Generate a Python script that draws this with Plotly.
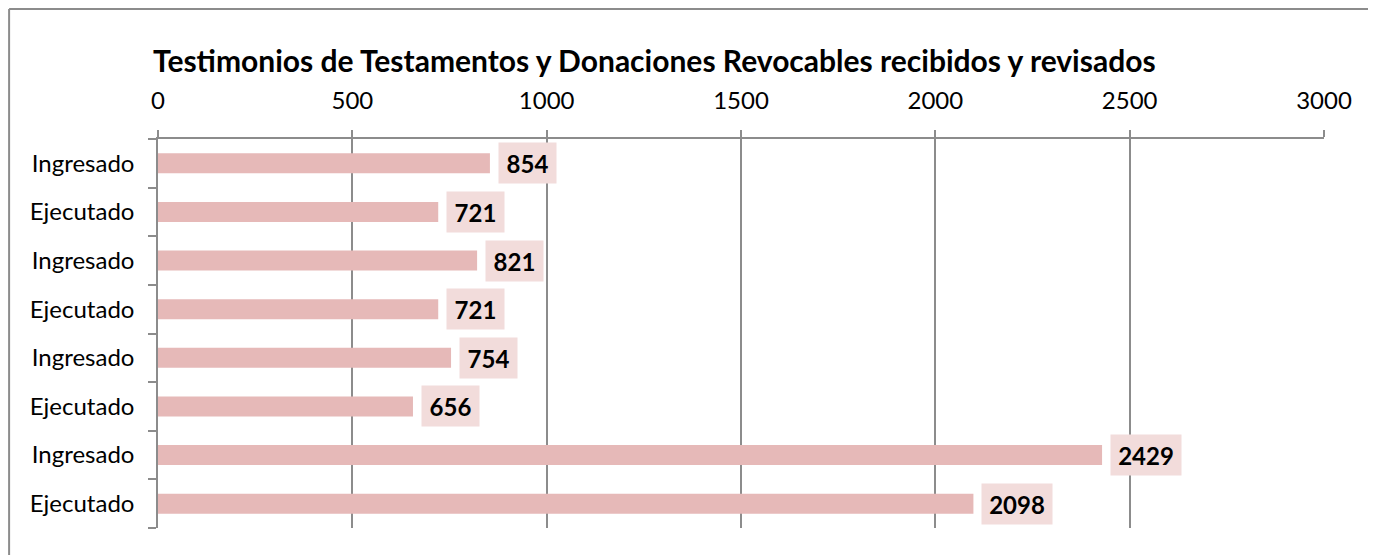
import plotly.graph_objects as go

categories = ["Ingresado", "Ejecutado", "Ingresado", "Ejecutado",
              "Ingresado", "Ejecutado", "Ingresado", "Ejecutado"]
values = [854, 721, 821, 721, 754, 656, 2429, 2098]
x_ticks = [0, 500, 1000, 1500, 2000, 2500, 3000]
title = "Testimonios de Testamentos y Donaciones Revocables recibidos y revisados"

ids = [str(i) for i in range(len(categories))]

BAR = "#E6B9B8"
LBL = "#F2DCDB"
GRID = "#8C8C8C"
FONT = "Lato"

fig = go.Figure()
fig.add_trace(go.Bar(
    x=values, y=ids, orientation="h",
    marker=dict(color=BAR, line=dict(width=0)),
    hoverinfo="x",
))

for i, v in enumerate(values):
    txt = str(v)
    fig.add_annotation(
        x=v, y=ids[i], xref="x", yref="y",
        text=f"<b>{txt}</b>", showarrow=False,
        xanchor="left", yanchor="middle", xshift=8,
        bgcolor=LBL, borderpad=0,
        width=13 * len(txt) + 18, height=40, align="center", valign="middle",
        font=dict(family=FONT, size=24, color="#000000"),
    )

fig.add_annotation(
    x=-0.006, y=1.203, xref="paper", yref="paper",
    text=f"<b>{title}</b>", showarrow=False,
    xanchor="left", yanchor="middle",
    font=dict(family=FONT, size=30, color="#000000"),
)

# outer chart border (top and left edges visible in the frame)
fig.add_shape(
    type="line", xref="paper", yref="paper",
    x0=-0.1277, x1=1.2, y0=1.334, y1=1.334,
    line=dict(color="#8C8C8C", width=2), layer="below",
)
fig.add_shape(
    type="line", xref="paper", yref="paper",
    x0=-0.1277, x1=-0.1277, y0=-0.3, y1=1.334,
    line=dict(color="#8C8C8C", width=2), layer="below",
)

fig.update_layout(
    width=1368, height=547,
    margin=dict(l=150, r=52, t=131, b=27),
    paper_bgcolor="white", plot_bgcolor="white",
    bargap=0.59, showlegend=False,
    font=dict(family=FONT, size=24, color="#000000"),
    xaxis=dict(
        side="top", range=[0, 3000], tickmode="array", tickvals=x_ticks,
        showgrid=True, gridcolor=GRID, gridwidth=1.5,
        showline=True, linecolor=GRID, linewidth=1.5,
        ticks="outside", ticklen=7, tickcolor=GRID, tickwidth=1.5,
        ticklabelstandoff=12, zeroline=False,
        tickfont=dict(family=FONT, size=24, color="#000000"),
    ),
    yaxis=dict(
        type="category", autorange="reversed",
        tickmode="array", tickvals=ids, ticktext=categories,
        tickson="boundaries", ticks="outside", ticklen=8,
        tickcolor=GRID, tickwidth=1.5,
        showline=True, linecolor=GRID, linewidth=1.5,
        showgrid=False, zeroline=False, ticklabelstandoff=17,
        tickfont=dict(family=FONT, size=24, color="#000000"),
    ),
)

fig.write_html("out.html")
